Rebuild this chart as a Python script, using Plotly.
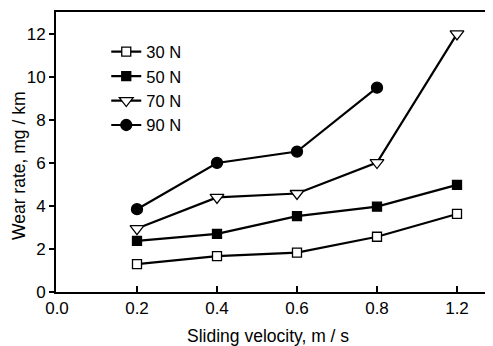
import plotly.graph_objects as go

velocity_labels = ["0.0", "0.2", "0.4", "0.6", "0.8", "1.2"]
point_labels = ["0.2", "0.4", "0.6", "0.8", "1.2"]
wear_30N = [1.3, 1.67, 1.83, 2.57, 3.63]
wear_50N = [2.38, 2.70, 3.53, 3.97, 4.98]
wear_70N = [2.95, 4.4, 4.58, 6.02, 12.0]
wear_90N = [3.85, 6.0, 6.53, 9.5]
y_ticks = [0, 2, 4, 6, 8, 10, 12]

pos = {lab: i for i, lab in enumerate(velocity_labels)}

series = [
    ("30 N", wear_30N, "square", "white", 9),
    ("50 N", wear_50N, "square", "black", 9),
    ("70 N", wear_70N, "triangle-down", "white", 12),
    ("90 N", wear_90N, "circle", "black", 11),
]

fig = go.Figure()
for name, vals, sym, fill, sz in series:
    xs = [pos[l] for l in point_labels[:len(vals)]]
    fig.add_trace(go.Scatter(
        x=xs, y=vals, name=name, mode="lines+markers",
        line=dict(color="black", width=2.2),
        marker=dict(symbol=sym, size=sz, color=fill,
                    line=dict(color="black", width=1.3)),
    ))

# page body has a default 8px margin; compensate so the figure fits the window
OFF = 8
W, H = 493 - OFF, 346 - OFF
l, r, t = 56 - OFF, 0, 12 - OFF
b = H - t - 280
pw, ph = W - l - r, H - t - b

font = dict(family="Liberation Sans, Arial, sans-serif", color="black")
fig.update_layout(
    width=W, height=H,
    margin=dict(l=l, r=r, t=t, b=b, autoexpand=False),
    paper_bgcolor="white", plot_bgcolor="white",
    font=dict(size=17, **font),
    showlegend=True,
    legend=dict(x=0.115, y=0.92, xanchor="left", yanchor="top",
                bgcolor="rgba(0,0,0,0)", font=dict(size=16.5, **font),
                itemwidth=30, tracegroupgap=0),
    xaxis=dict(
        range=[-0.0125, 5.45], automargin=False,
        tickvals=list(range(len(velocity_labels))), ticktext=velocity_labels,
        ticks="inside", ticklen=6, tickwidth=1.5, tickcolor="black",
        showline=True, linecolor="black", linewidth=2, mirror=True,
        showgrid=False, zeroline=False,
    ),
    yaxis=dict(
        range=[0, 13.02], tickvals=y_ticks, automargin=False,
        ticks="outside", ticklen=5, tickwidth=1.5, tickcolor="black",
        showline=True, linecolor="black", linewidth=2,
        showgrid=False, zeroline=False,
    ),
)

# axis titles placed at pixel positions of the reference (window coords)
for text, px, py, ang in [("Sliding velocity, m / s", 268, 336, 0),
                          ("Wear rate, mg / km", 19, 166, -90)]:
    fig.add_annotation(
        text=text, textangle=ang, showarrow=False,
        x=(px - OFF - l) / pw, y=(H - b - (py - OFF)) / ph,
        xref="paper", yref="paper", xanchor="center", yanchor="middle",
        font=dict(size=17.5, **font),
    )

fig.write_html("out.html")
